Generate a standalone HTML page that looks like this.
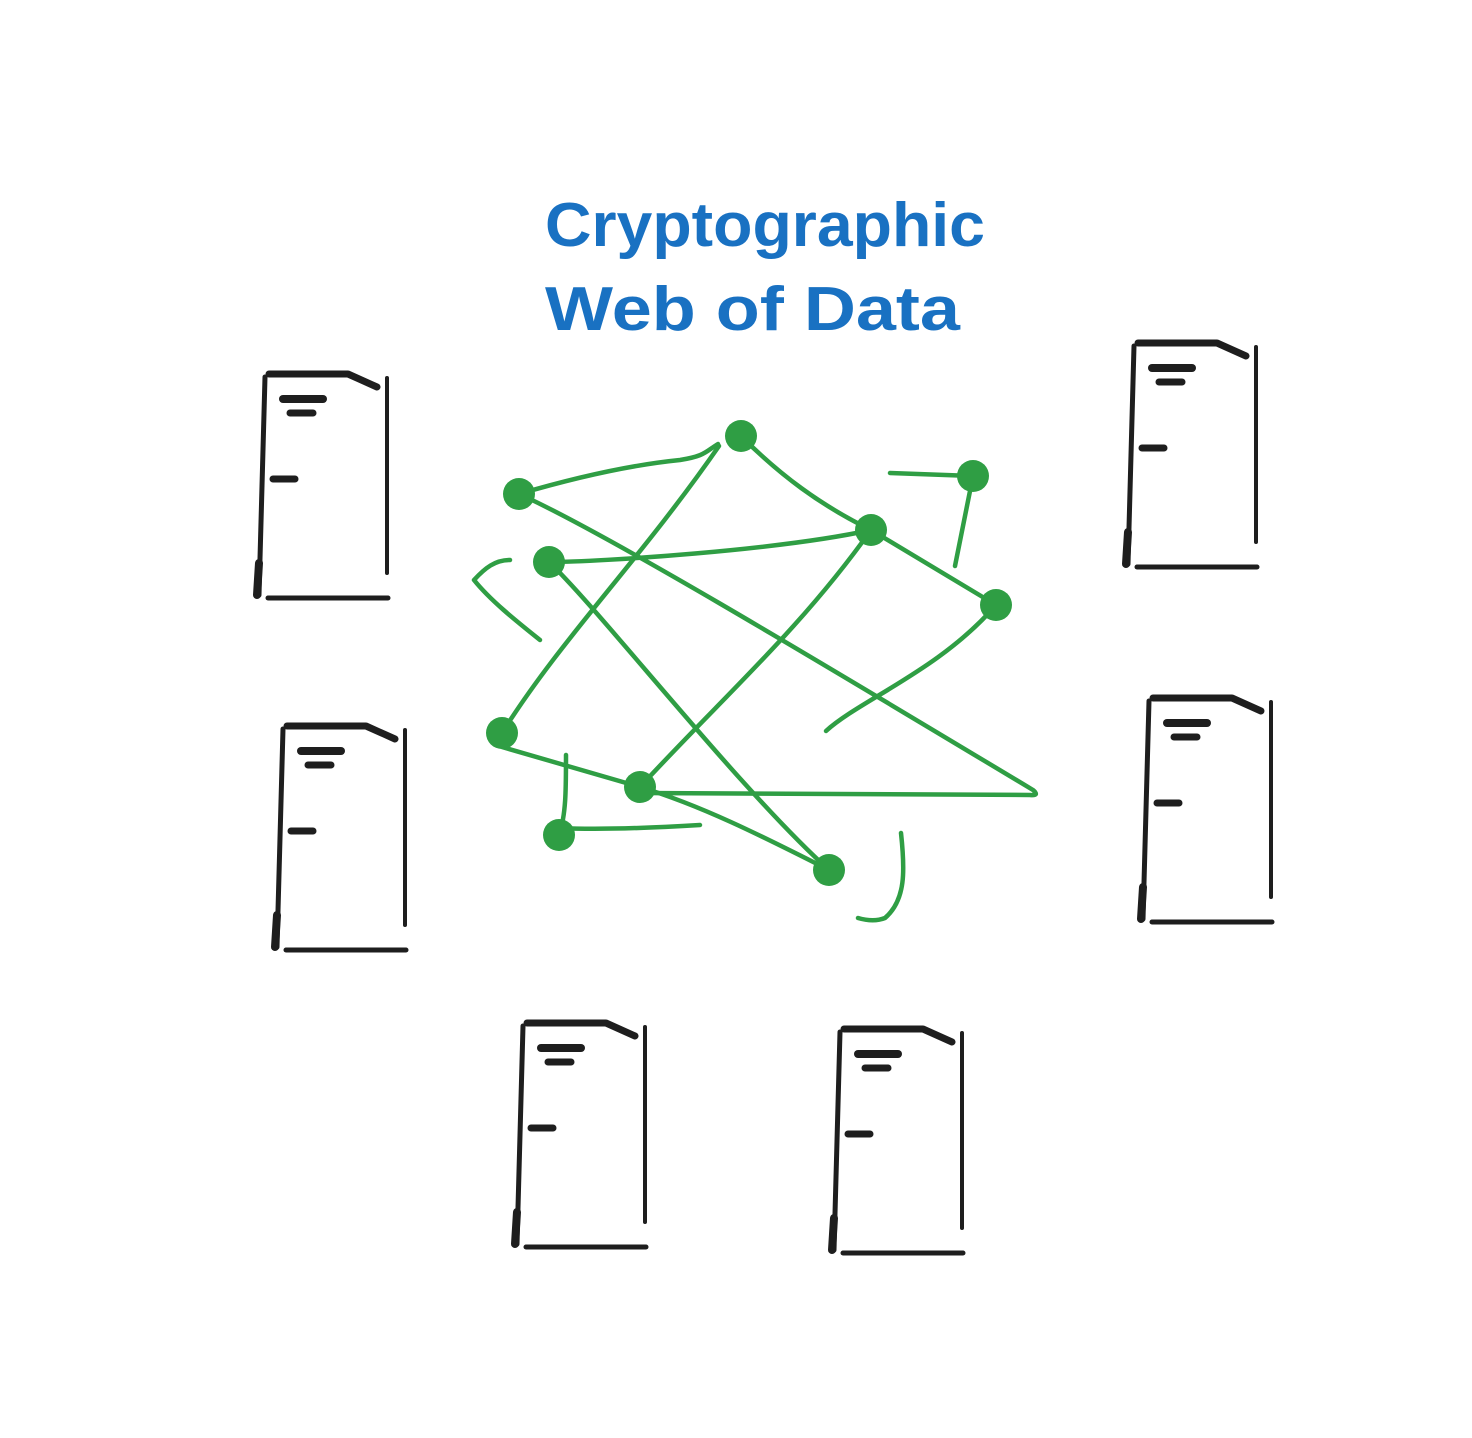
<!DOCTYPE html>
<html><head><meta charset="utf-8"><style>html,body{margin:0;padding:0;background:#fff}svg{display:block}</style></head>
<body>
<svg width="1472" height="1438" viewBox="0 0 1472 1438" xmlns="http://www.w3.org/2000/svg">
<defs>
<g id="doc" fill="none" stroke="#1e1e1e" stroke-linecap="round" stroke-linejoin="round">
<path d="M10,4 L4,222" stroke-width="5"/>
<path d="M4,190 L2,222" stroke-width="8"/>
<path d="M14,1 L93,1 L122,14" stroke-width="7"/>
<path d="M132,5 L132,200" stroke-width="4"/>
<path d="M13,225 L133,225" stroke-width="5"/>
<path d="M28,26 L68,26" stroke-width="8"/>
<path d="M35,40 L58,40" stroke-width="7"/>
<path d="M18,106 L40,106" stroke-width="7"/>
</g>
</defs>
<use href="#doc" x="255" y="373"/>
<use href="#doc" x="1124" y="342"/>
<use href="#doc" x="273" y="725"/>
<use href="#doc" x="1139" y="697"/>
<use href="#doc" x="513" y="1022"/>
<use href="#doc" x="830" y="1028"/>

<g font-family="'Comic Sans MS','Liberation Sans',sans-serif" font-size="62" fill="#1971c2" font-weight="bold">
<text x="545" y="246" textLength="440" lengthAdjust="spacingAndGlyphs">Cryptographic</text>
<text x="545" y="330" textLength="415" lengthAdjust="spacingAndGlyphs">Web of Data</text>
</g>

<g fill="none" stroke="#2f9e44" stroke-width="4.5" stroke-linecap="round" stroke-linejoin="round">
<path d="M519,494 C560,482 620,466 680,460 C705,456 705,452 718,444"/>
<path d="M719,446 C640,560 560,640 502,733"/>
<path d="M741,436 C780,475 820,505 871,530 L996,605"/>
<path d="M519,494 C600,530 800,650 1033,790 Q1040,796 1030,795 L640,793"/>
<path d="M549,562 C600,562 780,550 871,530"/>
<path d="M549,562 C600,610 740,790 829,870"/>
<path d="M871,530 C800,630 720,700 640,787"/>
<path d="M996,605 C940,670 860,700 826,731"/>
<path d="M890,473 L973,476 L955,566"/>
<path d="M502,747 L640,787 C700,805 760,835 829,870"/>
<path d="M566,755 C566,790 566,815 559,835"/>
<path d="M560,828 C600,830 650,828 700,825"/>
<path d="M510,560 C495,560 485,568 474,580 C490,600 515,620 540,640"/>
<path d="M901,833 C905,870 906,900 885,918 C875,922 865,920 858,918"/>
</g>
<g fill="#2f9e44">
<circle cx="741" cy="436" r="16"/>
<circle cx="519" cy="494" r="16"/>
<circle cx="549" cy="562" r="16"/>
<circle cx="871" cy="530" r="16"/>
<circle cx="973" cy="476" r="16"/>
<circle cx="996" cy="605" r="16"/>
<circle cx="502" cy="733" r="16"/>
<circle cx="640" cy="787" r="16"/>
<circle cx="559" cy="835" r="16"/>
<circle cx="829" cy="870" r="16"/>
</g>
</svg>
</body></html>
